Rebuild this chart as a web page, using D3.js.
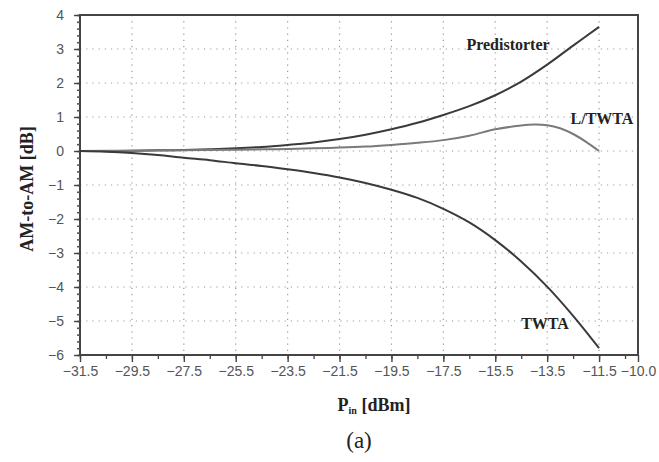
<!DOCTYPE html>
<html><head><meta charset="utf-8">
<script src="https://cdn.jsdelivr.net/npm/d3@7"></script>
<style>body{margin:0;background:#fff}svg{display:block}</style>
</head><body><svg id="c" width="659" height="462"></svg>
<script>
const pin = [-31.5,-30.5,-29.5,-28.5,-27.5,-26.5,-25.5,-24.5,-23.5,-22.5,-21.5,-20.5,-19.5,-18.5,-17.5,-16.5,-15.5,-14.5,-13.5,-12.5,-11.5];
const predistorter = [0,0.0,0.01,0.02,0.03,0.05,0.08,0.12,0.18,0.25,0.35,0.48,0.64,0.83,1.06,1.32,1.64,2.04,2.54,3.1,3.65];
const twta = [0,-0.02,-0.06,-0.12,-0.2,-0.27,-0.36,-0.44,-0.54,-0.65,-0.78,-0.94,-1.14,-1.38,-1.7,-2.1,-2.62,-3.25,-3.99,-4.85,-5.8];
const ltwtaX = [-31.5,-29.5,-27.5,-25.5,-24.5,-23.5,-22.5,-21.5,-20.5,-19.5,-18.5,-17.5,-16.5,-15.5,-14.5,-14.0,-13.5,-13.0,-12.5,-12.0,-11.5];
const ltwta = [0,0.01,0.02,0.04,0.05,0.06,0.08,0.1,0.13,0.18,0.24,0.32,0.45,0.64,0.75,0.78,0.76,0.67,0.5,0.27,0.0];
const xTicks = [-31.5,-29.5,-27.5,-25.5,-23.5,-21.5,-19.5,-17.5,-15.5,-13.5,-11.5,-10.0];
const yTicks = [-6,-5,-4,-3,-2,-1,0,1,2,3,4];
const seriesLabels = ["Predistorter","L/TWTA","TWTA"];

const svg = d3.select("#c");
const L=80,R=638,T=15,B=355;
const x = d3.scaleLinear().domain([-31.5,-10]).range([L,R]);
const y = d3.scaleLinear().domain([-6,4]).range([B,T]);

// grid
const g = svg.append("g");
xTicks.filter(v=>v>-31.5 && v<-10).forEach(v=>{
  g.append("line").attr("x1",x(v)).attr("x2",x(v)).attr("y1",T).attr("y2",B)
   .attr("stroke","#9a9a9a").attr("stroke-width",1.2).attr("stroke-dasharray","1.2,5");
});
yTicks.filter(v=>v>-6 && v<4).forEach(v=>{
  g.append("line").attr("x1",L).attr("x2",R).attr("y1",y(v)).attr("y2",y(v))
   .attr("stroke","#9a9a9a").attr("stroke-width",1.2).attr("stroke-dasharray","1.2,5");
});

// frame
svg.append("rect").attr("x",L).attr("y",T).attr("width",R-L).attr("height",B-T)
  .attr("fill","none").attr("stroke","#444").attr("stroke-width",2);

// x axis
const xMinor = d3.range(-31.5,-9.9,1);
svg.append("g").attr("transform",`translate(0,${B})`)
  .call(d3.axisBottom(x).tickValues(xMinor).tickSize(4).tickFormat(""))
  .call(a=>{a.select(".domain").remove();a.selectAll("line").attr("stroke","#444").attr("stroke-width",1.3);});
const xa = svg.append("g").attr("transform",`translate(0,${B})`)
  .call(d3.axisBottom(x).tickValues(xTicks).tickSize(7).tickPadding(4).tickFormat(d=>d3.format(".1f")(d).replace("-","\u2212")));
xa.select(".domain").remove();
xa.selectAll("line").attr("stroke","#444").attr("stroke-width",1.4);
xa.selectAll("text").attr("font-family","Liberation Sans, Arial, sans-serif").attr("font-size",14).attr("fill","#555");

// y axis
const yMinor = d3.range(-6,4.01,0.2);
svg.append("g").attr("transform",`translate(${L},0)`)
  .call(d3.axisLeft(y).tickValues(yMinor).tickSize(3).tickFormat(""))
  .call(a=>{a.select(".domain").remove();a.selectAll("line").attr("stroke","#555").attr("stroke-width",1.6);});
const ya = svg.append("g").attr("transform",`translate(${L},0)`)
  .call(d3.axisLeft(y).tickValues(yTicks).tickSize(6).tickPadding(10).tickFormat(d=>String(d).replace("-","\u2212")));
ya.select(".domain").remove();
ya.selectAll("line").attr("stroke","#444").attr("stroke-width",1.4);
ya.selectAll("text").attr("font-family","Liberation Sans, Arial, sans-serif").attr("font-size",14).attr("fill","#555");

// lines
const line = d3.line().x(d=>x(d[0])).y(d=>y(d[1])).curve(d3.curveCatmullRom.alpha(0.5));
svg.append("path").datum(pin.map((v,i)=>[v,predistorter[i]])).attr("d",line)
  .attr("fill","none").attr("stroke","#3a3a3a").attr("stroke-width",2);
svg.append("path").datum(ltwtaX.map((v,i)=>[v,ltwta[i]])).attr("d",line)
  .attr("fill","none").attr("stroke","#7a7a7a").attr("stroke-width",2);
svg.append("path").datum(pin.map((v,i)=>[v,twta[i]])).attr("d",line)
  .attr("fill","none").attr("stroke","#3a3a3a").attr("stroke-width",2);

// series labels
const ff = "Liberation Serif, Times New Roman, serif";
svg.append("text").attr("x",508).attr("y",50).attr("text-anchor","middle")
  .attr("font-family",ff).attr("font-weight","bold").attr("font-size",16).attr("fill","#222").text(seriesLabels[0]);
svg.append("text").attr("x",602).attr("y",124).attr("text-anchor","middle")
  .attr("font-family",ff).attr("font-weight","bold").attr("font-size",16).attr("fill","#222").text(seriesLabels[1]);
svg.append("text").attr("x",545).attr("y",329).attr("text-anchor","middle")
  .attr("font-family",ff).attr("font-weight","bold").attr("font-size",16).attr("fill","#222").text(seriesLabels[2]);

// axis titles
svg.append("text").attr("transform","translate(33,189) rotate(-90)").attr("text-anchor","middle")
  .attr("font-family",ff).attr("font-weight","bold").attr("font-size",18).attr("fill","#222").text("AM-to-AM [dB]");
const xt = svg.append("text").attr("x",374).attr("y",411).attr("text-anchor","middle")
  .attr("font-family",ff).attr("font-weight","bold").attr("font-size",18).attr("fill","#222");
xt.append("tspan").text("P");
xt.append("tspan").attr("font-size",10).attr("dy",3).text("in");
xt.append("tspan").attr("dy",-3).text(" [dBm]");
svg.append("text").attr("x",359).attr("y",448).attr("text-anchor","middle")
  .attr("font-family",ff).attr("font-size",23).attr("fill","#222").text("(a)");
</script></body></html>
